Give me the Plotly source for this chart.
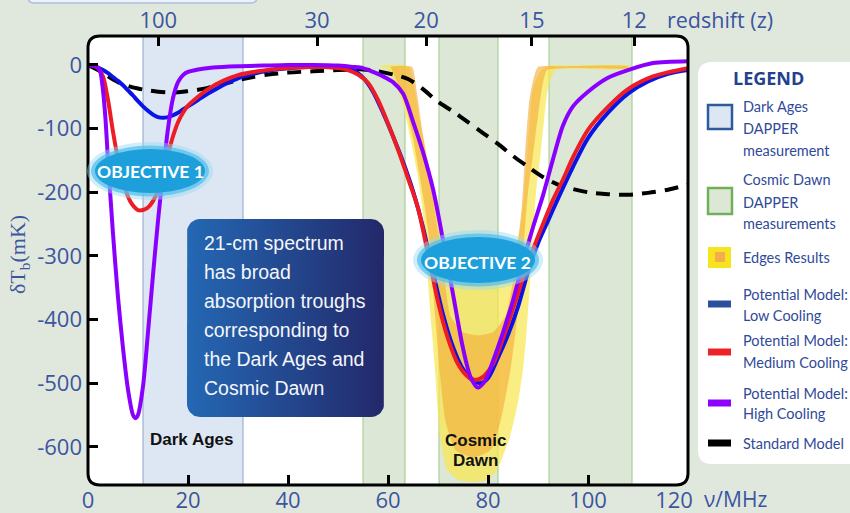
import numpy as np
import plotly.graph_objects as go

# ---------------- data ----------------
freq_ticks = [0, 20, 40, 60, 80, 100, 120]
freq_label_pos = [0, 20, 40, 60, 80, 100, 117.2]   # "120" label sits left of the axis end, as in the source
inner_freq_ticks = [20, 40, 60, 80, 100]
temp_ticks = [0, -100, -200, -300, -400, -500, -600]
redshift_ticks = [100, 30, 20, 15, 12]

dark_ages_band = [11, 31]
cosmic_dawn_bands = [[55, 63.4], [70.2, 82], [92.2, 108.8]]

low_nu = [0, 1, 2, 3, 4, 5, 6, 7, 8, 9, 10, 11, 12, 13, 14, 15, 16, 17, 18, 19, 20, 22, 24, 26, 28, 30, 33, 36, 40, 45,
          50, 53, 55, 57, 59, 61, 63, 65, 67, 69, 71, 73, 75, 77, 78.5, 80, 82, 84, 86, 88, 90, 92, 94, 97, 100, 104,
          108, 112, 116, 120]
low_T = [0, -1, -4, -8, -13, -19, -25, -32, -40, -48, -57, -65, -72, -78, -82, -83, -82, -79, -75, -70, -65, -55, -45,
         -36, -28, -21, -14, -9, -5, -3, -4, -8, -20, -42, -75, -112, -152, -198, -255, -325, -392, -443, -478, -496,
         -500, -492, -460, -424, -380, -325, -280, -245, -210, -160, -115, -75, -45, -26, -14, -8]

med_nu = [0, 1, 2, 3, 4, 5, 6, 7, 8, 9, 10, 11, 12, 13, 14, 15, 16, 17, 18, 19, 20, 22, 24, 27, 30, 34, 38, 42, 46, 50,
          52, 54, 56, 58, 60, 62, 64, 66, 68, 70, 72, 74, 76, 77.5, 79, 81, 83, 85, 87, 89, 91, 93, 95, 97, 100, 104,
          108, 113, 120]
med_T = [0, -1, -5, -18, -55, -105, -148, -182, -207, -221, -228, -228, -224, -214, -197, -170, -140, -112, -90, -75,
         -64, -50, -38, -25, -16, -10, -6, -4, -3, -5, -8, -15, -28, -55, -92, -133, -178, -225, -297, -372, -430, -470,
         -490, -495, -490, -470, -430, -383, -335, -290, -250, -212, -180, -145, -102, -66, -38, -18, -5]

high_nu = [0, 1, 2, 2.5, 3, 3.5, 4, 5, 6, 7, 8, 9, 9.5, 10, 11, 12, 13, 14, 15, 16, 17, 18, 19, 20, 22, 25, 30, 35, 40,
           45, 50, 53, 55, 57, 59, 61, 63, 65, 67, 69, 71, 73, 75, 76.5, 78, 79.5, 81, 83, 85, 87, 89, 91, 93, 95, 97,
           100, 104, 108, 113, 120]
high_T = [0, -1, -4, -12, -40, -85, -150, -265, -365, -445, -510, -550, -555, -550, -505, -420, -330, -245, -170, -100,
          -52, -27, -16, -11, -7, -4, -2, -1, 0, 0, -1, -3, -5, -11, -18, -27, -45, -89, -137, -195, -275, -360, -445,
          -490, -507, -495, -465, -420, -370, -310, -255, -205, -148, -95, -65, -42, -20, -8, 3, 6]

std_nu = [0, 2, 4, 6, 8, 10, 12, 14, 16, 18, 20, 22, 24, 26, 28, 30, 33, 36, 40, 45, 50, 55, 58, 61, 64, 67, 70, 73, 76,
          79, 82, 85, 88, 91, 94, 97, 100, 104, 108, 112, 116, 120]
std_T = [0, -8, -18, -27, -33, -37, -40, -42, -43, -43, -41, -39, -36, -32, -28, -24, -19, -15, -12, -10, -8, -7, -10,
         -15, -22, -38, -58, -73, -90, -107, -124, -143, -160, -176, -188, -195, -200, -203, -204, -201, -196, -188]

# EDGES result: outer (yellow) region, lower and upper boundaries (left to right)
edges_y_lo_nu = [58.5, 59.8, 61.5, 63, 64.5, 65.8, 66.8, 67.6, 68.1, 68.8, 69.4, 70.4, 71.8, 74, 77, 80, 81.8, 84.4, 86,
                 87, 87.7, 88.3, 88.9, 89.6, 90.5, 91.3, 92, 93.5, 96, 108.5]
edges_y_lo_T = [-4, -6, -30, -63, -115, -168, -220, -280, -353, -420, -479, -584, -636, -652, -655, -652, -636, -584,
                -530, -479, -420, -353, -280, -200, -141, -80, -36, -8, -6, -6]
edges_y_hi_nu = [58.5, 63, 64.4, 65.5, 66.4, 67.5, 68.4, 69.8, 71, 73, 78, 83, 85.5, 86.5, 87.2, 87.8, 88.4, 89, 90.4,
                 92, 96, 108.5]
edges_y_hi_T = [0, 0, -5, -45, -89, -130, -168, -220, -265, -295, -305, -298, -285, -250, -200, -141, -80, -36, -11, -1,
                -1, -1]
# EDGES result: inner (orange) region
edges_o_lo_nu = [60.5, 62, 63.5, 65, 66.2, 67.3, 68.2, 69, 69.7, 70.3, 71.5, 73.5, 77, 80.5, 82.5, 84.5, 85.5, 86.4,
                 87.2, 88, 89, 90, 90.8, 91.8, 95, 108]
edges_o_lo_T = [-3, -30, -63, -115, -168, -220, -272, -353, -420, -479, -560, -605, -617, -605, -560, -479, -420, -353,
                -278, -200, -141, -80, -36, -8, -5, -5]
edges_o_hi_nu = [60.5, 64.8, 65.8, 66.8, 67.8, 68.8, 70, 71.2, 72.5, 75, 78, 81, 83.5, 85, 86, 86.8, 87.4, 88.2, 89, 90,
                 95, 108]
edges_o_hi_T = [-2, -3, -45, -100, -150, -200, -260, -330, -395, -420, -425, -420, -395, -340, -280, -220, -141, -60,
                -25, -3, -2, -2]

# ---------------- layout geometry ----------------
W, H = 850, 513
ML, MR, MT, MB = 88, 162, 36, 28
PW, PH = W - ML - MR, H - MT - MB
XR = [0, 120]
YR = [-660, 45.5]

BG = "#e0e8dd"
TICKC = "#3b55a0"
LEGC = "#2f4a98"
LEGFONT = "Lato, Roboto, sans-serif"


def fx(px):
    return (px - ML) / PW


def fy(py):
    return (H - MB - py) / PH


def dx(px):
    return XR[0] + fx(px) * (XR[1] - XR[0])


def dy(py):
    return YR[0] + fy(py) * (YR[1] - YR[0])


def rr_path(x0, y0, x1, y1, r):
    P = lambda x, y: f"{fx(x):.5f},{fy(y):.5f}"
    return (f"M {P(x0 + r, y0)} L {P(x1 - r, y0)} Q {P(x1, y0)} {P(x1, y0 + r)} "
            f"L {P(x1, y1 - r)} Q {P(x1, y1)} {P(x1 - r, y1)} L {P(x0 + r, y1)} "
            f"Q {P(x0, y1)} {P(x0, y1 - r)} L {P(x0, y0 + r)} Q {P(x0, y0)} {P(x0 + r, y0)} Z")


fig = go.Figure()

# EDGES fills
fig.add_trace(go.Scatter(x=edges_y_lo_nu + edges_y_hi_nu[::-1], y=edges_y_lo_T + edges_y_hi_T[::-1],
                         fill="toself", fillcolor="rgba(248,230,80,0.72)", mode="lines",
                         line=dict(width=0, shape="spline", smoothing=0.5), hoverinfo="skip", showlegend=False))
fig.add_trace(go.Scatter(x=edges_o_lo_nu + edges_o_hi_nu[::-1], y=edges_o_lo_T + edges_o_hi_T[::-1],
                         fill="toself", fillcolor="rgba(245,172,58,0.62)", mode="lines",
                         line=dict(width=0, shape="spline", smoothing=0.5), hoverinfo="skip", showlegend=False))

# text box with gradient (decoration)
bx0, by0, bx1, by1, br = 187, 219, 384, 417, 13
pts = []
for cx, cy, a0 in [(bx1 - br, by0 + br, -90), (bx1 - br, by1 - br, 0), (bx0 + br, by1 - br, 90), (bx0 + br, by0 + br, 180)]:
    for a in np.linspace(a0, a0 + 90, 10):
        pts.append((cx + br * np.cos(np.radians(a)), cy + br * np.sin(np.radians(a))))
pts.append(pts[0])
fig.add_trace(go.Scatter(x=[dx(p[0]) for p in pts], y=[dy(p[1]) for p in pts], fill="toself", mode="lines",
                         line=dict(width=0),
                         fillgradient=dict(type="horizontal", colorscale=[[0, "#2468b4"], [1, "#23286a"]]),
                         hoverinfo="skip", showlegend=False))

# model curves
fig.add_trace(go.Scatter(x=std_nu, y=std_T, mode="lines",
                         line=dict(color="black", width=4, dash="14px,9px", shape="spline", smoothing=0.8),
                         hoverinfo="skip", showlegend=False))
fig.add_trace(go.Scatter(x=low_nu, y=low_T, mode="lines",
                         line=dict(color="#0a14e6", width=4, shape="spline", smoothing=0.8),
                         hoverinfo="skip", showlegend=False))
fig.add_trace(go.Scatter(x=med_nu, y=med_T, mode="lines",
                         line=dict(color="#ee1c24", width=4, shape="spline", smoothing=0.8),
                         hoverinfo="skip", showlegend=False))
fig.add_trace(go.Scatter(x=high_nu, y=high_T, mode="lines",
                         line=dict(color="#8a00ff", width=4, shape="spline", smoothing=0.8),
                         hoverinfo="skip", showlegend=False))

# hidden trace for top axis
fig.add_trace(go.Scatter(x=[None], y=[None], xaxis="x2", yaxis="y", showlegend=False, hoverinfo="skip"))

shapes = []
# small box edge at very top-left
shapes.append(dict(type="path", path=rr_path(28, -20, 257, 3, 6), xref="paper", yref="paper",
                   fillcolor="#edf2f9", line=dict(color="#a9c0de", width=1.5), layer="below"))
# white rounded plot background
shapes.append(dict(type="path", path=rr_path(ML, MT, ML + PW, MT + PH, 12), xref="paper", yref="paper",
                   fillcolor="white", line=dict(width=0), layer="below"))
# dark ages band
shapes.append(dict(type="rect", xref="x", yref="paper", x0=dark_ages_band[0], x1=dark_ages_band[1], y0=0, y1=1,
                   fillcolor="#dde7f3", line=dict(color="#8aa2c8", width=1), layer="below"))
for b in cosmic_dawn_bands:
    shapes.append(dict(type="rect", xref="x", yref="paper", x0=b[0], x1=b[1], y0=0, y1=1,
                       fillcolor="#dce8d5", line=dict(color="#9cc98a", width=1), layer="below"))
# frame
shapes.append(dict(type="path", path=rr_path(ML, MT, ML + PW, MT + PH, 12), xref="paper", yref="paper",
                   line=dict(color="black", width=3), layer="above"))


def bubble(cx, cy, rx, ry):
    out = []
    for gx, gy, col in [(8, 7, "rgba(150,218,245,0.45)"), (4, 3.5, "rgba(80,190,235,0.7)"), (0, 0, "#1c9fdb")]:
        out.append(dict(type="circle", xref="paper", yref="paper", x0=fx(cx - rx - gx), x1=fx(cx + rx + gx),
                        y0=fy(cy + ry + gy), y1=fy(cy - ry - gy), fillcolor=col, line=dict(width=0), layer="above"))
    return out


shapes += bubble(150, 171, 55, 22)
shapes += bubble(478, 260, 57, 23)

# legend panel
shapes.append(dict(type="path", path=rr_path(698, 62, 880, 464, 14), xref="paper", yref="paper",
                   fillcolor="white", line=dict(width=0), layer="below"))
shapes.append(dict(type="rect", xref="paper", yref="paper", x0=fx(708), x1=fx(732), y0=fy(129), y1=fy(105),
                   fillcolor="#dde7f3", line=dict(color="#2d5a9c", width=2.5)))
shapes.append(dict(type="rect", xref="paper", yref="paper", x0=fx(708), x1=fx(732), y0=fy(214), y1=fy(188),
                   fillcolor="#dce8d5", line=dict(color="#72b058", width=2.5)))
shapes.append(dict(type="rect", xref="paper", yref="paper", x0=fx(708), x1=fx(731), y0=fy(268), y1=fy(247),
                   fillcolor="#f7e41e", line=dict(width=0)))
shapes.append(dict(type="rect", xref="paper", yref="paper", x0=fx(715), x1=fx(725), y0=fy(262), y1=fy(252),
                   fillcolor="#f3ad4c", line=dict(width=0)))
for yc, col in [(304, "#2a4f9c"), (352, "#ee2226"), (403, "#8e00ff"), (443, "#000000")]:
    shapes.append(dict(type="rect", xref="paper", yref="paper", x0=fx(708), x1=fx(731), y0=fy(yc + 3.5),
                       y1=fy(yc - 3.5), fillcolor=col, line=dict(width=0)))

annotations = []


def ann(text, px, py, size, color, family, xanchor="center", angle=0):
    annotations.append(dict(text=text, x=fx(px), y=fy(py), xref="paper", yref="paper", showarrow=False,
                            xanchor=xanchor, yanchor="middle", textangle=angle,
                            font=dict(size=size, color=color, family=family)))


ann("<b>OBJECTIVE 1</b>", 150, 172, 17.5, "white", LEGFONT)
ann("<b>OBJECTIVE 2</b>", 477, 262, 17.5, "white", LEGFONT)

box_lines = ["21-cm spectrum", "has broad", "absorption troughs", "corresponding to", "the Dark Ages and",
             "Cosmic Dawn"]
for i, t in enumerate(box_lines):
    ann(t, 202, 243 + i * 29, 19.5, "#f4f6fb", "Liberation Sans, Arial, sans-serif", xanchor="left")

ann("<b>Dark Ages</b>", 191, 439, 17, "#111111", "Liberation Sans, Arial, sans-serif")
ann("<b>Cosmic</b>", 476, 440, 17, "#111111", "Liberation Sans, Arial, sans-serif")
ann("<b>Dawn</b>", 476, 460, 17, "#111111", "Liberation Sans, Arial, sans-serif")

ann("δT<sub>b</sub>(mK)", 19, 255, 22, TICKC, "Liberation Serif, serif", angle=-90)
ann("ν/MHz", 735, 499, 21, TICKC, "Open Sans")
ann("redshift (z)", 720, 19, 21.5, TICKC, "Open Sans")

ann("<b>LEGEND</b>", 768, 78, 18, "#263f8e", "Open Sans")
leg_lines = [("Dark Ages", 107), ("DAPPER", 128), ("measurement", 150),
             ("Cosmic Dawn", 180), ("DAPPER", 202), ("measurements", 223),
             ("Edges Results", 257),
             ("Potential Model:", 294), ("Low Cooling", 315),
             ("Potential Model:", 341), ("Medium Cooling", 362),
             ("Potential Model:", 393), ("High Cooling", 413),
             ("Standard Model", 443)]
for t, yy in leg_lines:
    ann(t, 741, yy, 14.5, LEGC, LEGFONT, xanchor="left")

z_pos = [1420.4 / (1 + z) for z in redshift_ticks]
TF = dict(size=22, color=TICKC, family="Open Sans")

fig.update_layout(
    width=W, height=H, margin=dict(l=ML, r=MR, t=MT, b=MB, autoexpand=False),
    paper_bgcolor=BG, plot_bgcolor=BG,
    xaxis=dict(range=XR, tickvals=freq_label_pos, ticktext=[str(v) for v in freq_ticks], ticks="", automargin=False,
               minor=dict(tickvals=inner_freq_ticks, ticks="inside", ticklen=10, tickwidth=3, tickcolor="black"),
               showgrid=False, zeroline=False, showline=False, ticklabelstandoff=0, tickfont=TF),
    xaxis2=dict(range=XR, overlaying="x", side="top", tickvals=z_pos, ticktext=[str(z) for z in redshift_ticks],
                ticks="inside", ticklen=10, tickwidth=3, tickcolor="black", showgrid=False, zeroline=False,
                showline=False, ticklabelstandoff=3, automargin=False, tickfont=TF),
    yaxis=dict(range=YR, tickvals=temp_ticks, ticktext=[str(v) for v in temp_ticks], ticks="inside", ticklen=10,
               tickwidth=3, tickcolor="black", showgrid=False, zeroline=False, showline=False, automargin=False,
               ticklabelstandoff=5, tickfont=TF),
    shapes=shapes, annotations=annotations,
)

fig.write_html("out.html", config={"displayModeBar": False},
               post_script="document.body.style.margin='0px';document.body.style.padding='0px';")
